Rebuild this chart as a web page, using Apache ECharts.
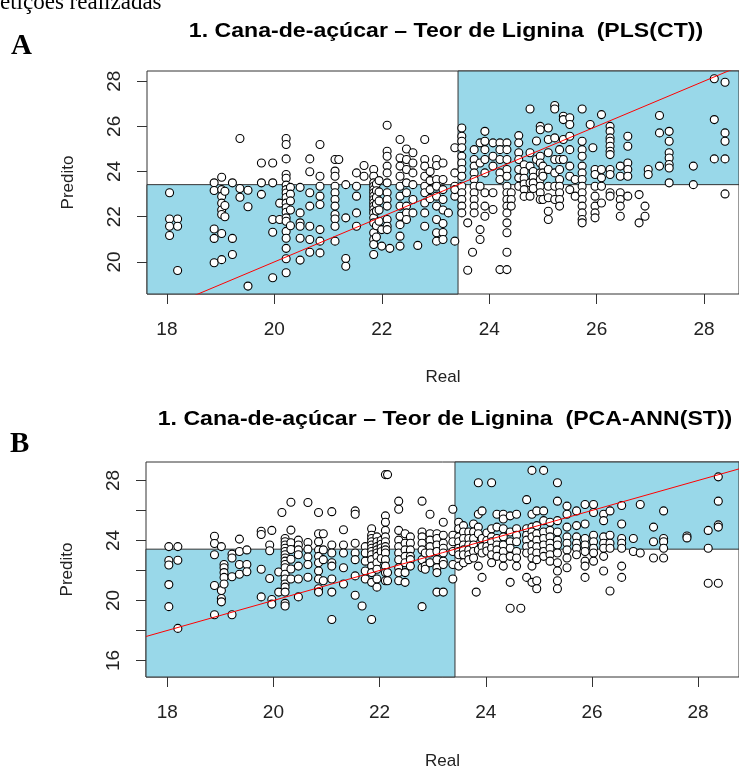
<!DOCTYPE html>
<html>
<head>
<meta charset="utf-8">
<script src="https://cdn.jsdelivr.net/npm/echarts@6/dist/echarts.min.js"></script>
<style>
  html, body { margin: 0; padding: 0; background: #fff; }
  #chart { width: 739px; height: 771px; }
</style>
</head>
<body>
<div id="chart"></div>
<script>
// limites dos eixos (o quadro é cortado à direita)
const eixoXA = [17.63, 28.65];
const eixoYA = [18.58, 28.45];
const eixoXB = [17.6, 28.77];
const eixoYB = [14.9, 29.23];
const limiar = 23.42;

const ticksX = [18, 20, 22, 24, 26, 28];
const ticksYA = [20, 22, 24, 26, 28];
const ticksYB = [16, 18, 20, 22, 24, 26, 28];
const rotulosYB = [16, 20, 24, 28];

// A: PLS(CT) -> [real, [preditos]]
const colunasA = [
  [18.05, [23.06, 21.9, 21.58, 21.17]],
  [18.2, [21.9, 21.58, 19.62]],
  [18.88, [23.5, 23.16, 21.46, 21.04, 19.96]],
  [19.02, [23.75, 23.2, 22.9, 22.6, 22.3, 22.1, 21.26, 20.1]],
  [19.08, [23.13, 22.5, 22.0]],
  [19.22, [23.5, 21.04, 20.33]],
  [19.36, [25.46, 23.25, 22.86]],
  [19.51, [23.17, 22.44, 18.93]],
  [19.76, [24.38, 23.5, 22.99]],
  [19.97, [24.38, 23.5, 21.88, 21.31, 19.3]],
  [20.1, [22.6, 21.88]],
  [20.22, [25.46, 25.2, 24.56, 23.87, 23.7, 23.4, 23.2, 23.05, 22.85, 22.6, 22.4, 22.2, 21.95, 21.8, 21.35, 21.05, 20.6, 20.14, 19.52]],
  [20.3, [23.3, 23.0, 22.7, 22.3, 21.6]],
  [20.48, [23.3, 22.17, 21.73, 21.58, 21.05, 20.08]],
  [20.66, [24.56, 23.99, 23.06, 22.47, 21.58, 20.99, 20.43]],
  [20.85, [25.2, 23.79, 23.35, 22.91, 22.54, 21.43, 20.92, 20.4]],
  [21.13, [24.53, 24.02, 23.79, 23.35, 23.06, 22.76, 22.47, 22.1, 21.9, 21.58, 20.92]],
  [21.2, [24.53]],
  [21.33, [23.42, 21.95, 20.15, 19.81]],
  [21.53, [23.94, 23.35, 22.91, 22.17, 21.58]],
  [21.67, [24.27, 23.79]],
  [21.85, [24.09, 23.79, 23.5, 23.35, 23.2, 23.06, 22.91, 22.76, 22.61, 22.47, 22.32, 22.17, 21.95, 21.73, 21.29, 20.99, 20.77, 20.33]],
  [21.9, [23.45, 23.15, 22.85, 22.55, 22.25, 21.6, 21.1]],
  [21.95, [23.6, 23.1, 22.7, 22.3, 21.8]],
  [22.0, [21.43, 20.7]],
  [22.1, [26.05, 24.9, 24.68, 24.24, 23.94, 23.5, 23.06, 22.76, 22.47, 21.88, 21.58, 21.43]],
  [22.15, [20.6]],
  [22.34, [25.42, 24.6, 24.24, 23.79, 23.35, 22.91, 22.47, 22.02, 21.65, 21.14, 20.7]],
  [22.46, [25.0, 24.53, 24.09, 23.5, 23.06, 22.47, 22.17, 21.88]],
  [22.58, [24.83, 24.38, 23.94, 23.42, 22.76, 22.17]],
  [22.67, [20.73]],
  [22.8, [25.42, 24.53, 24.24, 23.79, 23.35, 23.06, 22.61, 22.17, 21.58]],
  [22.9, [24.0, 23.6, 23.2, 22.8]],
  [23.02, [24.53, 24.27, 23.65, 23.35, 22.91, 22.47, 21.88, 21.29, 20.92]],
  [23.14, [24.38, 23.65, 23.2, 22.76, 22.3, 21.7, 21.3, 20.99]],
  [23.24, [22.17]],
  [23.36, [25.05, 23.94, 23.35, 22.91, 23.2, 20.92]],
  [23.49, [25.93, 25.56, 25.34, 25.05, 24.68, 24.38, 24.09, 23.79, 23.35, 23.06, 22.76, 22.47, 22.17]],
  [23.6, [21.73, 19.63]],
  [23.69, [20.43]],
  [23.72, [24.97, 24.53, 24.24, 23.94, 23.65, 23.35, 23.06, 22.76, 22.47, 22.17]],
  [23.83, [25.27, 24.38, 23.35, 21.43, 20.99]],
  [23.92, [25.78, 25.34, 24.97, 24.53, 23.94, 23.06, 22.47, 22.02]],
  [24.07, [25.27, 24.68, 24.24, 23.06, 22.32]],
  [24.2, [25.27, 24.97, 24.53, 23.94, 23.65, 19.66]],
  [24.33, [25.27, 24.97, 24.53, 24.09, 23.79, 23.35, 23.06, 22.76, 22.47, 22.17, 21.73, 21.29, 20.43, 19.66]],
  [24.41, [23.06, 22.76, 22.47]],
  [24.55, [25.59, 25.27, 24.83, 24.53, 24.09, 23.72, 23.35]],
  [24.65, [24.3, 24.0, 23.7, 23.45, 23.2, 22.9]],
  [24.76, [26.77, 24.83, 24.24, 23.5, 22.91]],
  [24.82, [24.0, 23.75, 23.5, 23.25]],
  [24.88, [25.35, 24.53]],
  [24.95, [26.0, 25.85, 24.68, 24.38, 23.94, 23.65, 23.35, 23.06, 22.76]],
  [25.0, [24.24, 23.94, 23.79, 22.76]],
  [25.1, [25.93, 25.42, 24.83, 24.09, 23.35, 22.84, 22.24, 21.88]],
  [25.22, [26.92, 26.77, 25.49, 24.53, 23.94, 23.35, 22.76]],
  [25.31, [24.97, 24.53, 24.09, 23.65, 23.35, 23.06, 22.76, 22.47]],
  [25.38, [26.45, 26.3, 25.42, 24.53]],
  [25.5, [26.38, 26.08, 25.56, 24.97, 24.24, 23.79, 23.2]],
  [25.6, [23.65, 22.91]],
  [25.73, [26.77, 25.34, 24.97, 24.68, 24.24, 23.94, 23.65, 23.35, 23.06, 22.76, 22.47, 22.17, 21.88, 21.73]],
  [25.88, [26.08]],
  [25.93, [25.05]],
  [25.97, [24.09, 23.87, 23.35, 22.91, 22.47, 22.17, 21.95]],
  [26.09, [26.52, 24.09, 23.72, 23.35, 22.61]],
  [26.25, [26.0, 25.78, 25.49, 25.34, 25.12, 24.9, 24.75, 24.09, 23.87, 23.06, 22.91]],
  [26.44, [24.24, 23.79, 23.06, 22.76, 22.47, 22.02]],
  [26.58, [25.56, 25.12, 24.38, 24.09, 23.79, 22.91]],
  [26.79, [22.98, 21.73]],
  [26.9, [22.47, 22.02]],
  [26.96, [24.09, 23.87]],
  [27.17, [26.48, 25.71, 24.24]],
  [27.35, [25.78, 25.34, 24.83, 24.6, 24.31, 24.16, 23.5]],
  [27.8, [24.24, 23.42]],
  [28.19, [28.11, 26.3, 24.56]],
  [28.39, [27.95, 25.71, 25.34, 24.56, 23.01]]
];

// B: PCA-ANN(ST) -> [real, [preditos]]
const colunasB = [
  [18.03, [23.59, 22.66, 22.36, 21.06, 19.59]],
  [18.2, [23.59, 22.68, 18.14]],
  [18.89, [24.28, 23.8, 23.05, 21.0, 19.05]],
  [19.02, [23.59, 20.67, 20.13, 19.91]],
  [19.07, [22.4, 22.18, 21.86, 21.54, 21.1]],
  [19.22, [23.09, 22.83, 21.58, 19.05]],
  [19.36, [24.09, 23.26, 22.4, 21.75]],
  [19.5, [23.37, 22.4, 21.92]],
  [19.77, [24.61, 24.4, 22.08, 20.24]],
  [19.93, [23.7, 23.31, 21.47]],
  [19.97, [24.67, 20.07, 19.76]],
  [20.1, [21.9, 20.56]],
  [20.16, [25.86]],
  [20.22, [24.13, 23.91, 23.7, 23.48, 23.26, 23.05, 22.83, 22.62, 22.4, 22.18, 21.75, 21.43, 21.1, 20.89, 20.56, 19.81, 19.63]],
  [20.33, [26.55, 24.69, 23.85, 23.4, 22.75, 22.1, 21.43]],
  [20.47, [24.02, 23.7, 23.37, 23.05, 22.29, 21.43, 20.24]],
  [20.65, [26.53, 23.86, 23.42, 22.9, 22.4, 21.55]],
  [20.85, [25.86, 24.45, 23.91, 23.37, 22.94, 22.51, 21.97, 21.43, 20.78, 20.56]],
  [20.94, [24.45, 23.37, 22.72, 21.32]],
  [21.1, [25.92, 23.7, 23.16, 22.51, 22.29, 21.43, 20.56, 18.73]],
  [21.32, [24.71, 23.7, 23.16, 22.18, 21.1]],
  [21.54, [25.97, 25.75, 23.81, 23.16, 22.72, 21.64, 20.35]],
  [21.67, [19.63]],
  [21.73, [23.59, 23.16, 22.62, 21.97, 21.43]],
  [21.85, [24.78, 24.35, 24.13, 23.91, 23.7, 23.48, 23.26, 23.05, 22.72, 22.29, 21.86, 21.21, 18.73]],
  [21.95, [24.24, 23.91, 23.59, 23.37, 23.16, 22.94, 22.51, 22.08, 21.43, 20.89]],
  [22.03, [24.0, 23.75, 23.5, 23.25, 22.8]],
  [22.11, [28.39, 25.64, 25.21, 24.67, 24.24, 23.91, 23.59, 23.37, 23.16, 22.72, 22.29, 21.86, 21.32]],
  [22.15, [28.39, 21.86, 21.32]],
  [22.36, [26.62, 26.08, 24.67, 24.02, 23.59, 23.16, 22.72, 22.18, 21.86, 21.32]],
  [22.48, [24.45, 23.81, 23.37, 22.94, 22.51, 21.86, 21.21]],
  [22.58, [24.24, 23.81, 23.37, 22.94, 22.72, 22.29]],
  [22.8, [26.62, 24.56, 24.24, 23.81, 23.37, 22.72, 22.18, 19.59]],
  [22.86, [23.16, 22.29, 22.08]],
  [22.95, [25.75, 24.45, 24.02, 23.59, 23.16, 22.51]],
  [23.08, [24.45, 24.13, 23.7, 23.26, 22.72, 22.18, 21.86, 20.56]],
  [23.2, [25.21, 24.35, 23.81, 23.48, 23.16, 22.62, 22.4, 20.56]],
  [23.38, [26.08, 24.35, 23.91, 23.26, 22.4, 21.43]],
  [23.49, [25.21, 24.78, 24.24, 23.91, 23.48, 23.26, 23.05, 22.29]],
  [23.58, [24.99, 24.56, 24.13, 23.7, 23.37, 23.05, 22.51]],
  [23.68, [24.56, 24.13, 23.7, 23.37, 23.05, 22.72]],
  [23.77, [25.1, 24.56, 24.13, 23.7, 23.26, 22.83]],
  [23.82, [20.56]],
  [23.86, [27.85, 25.75, 24.89, 24.45, 23.37, 22.29]],
  [23.93, [25.97, 24.13, 23.59, 23.16, 21.54]],
  [24.02, [24.5, 24.0, 23.6, 23.3]],
  [24.11, [27.85, 24.78, 24.24, 23.91, 23.48, 23.05, 22.51]],
  [24.21, [25.75, 24.89, 24.13, 23.7, 23.37, 22.94]],
  [24.33, [25.75, 25.43, 24.78, 24.24, 23.7, 23.26, 22.83, 22.29]],
  [24.46, [25.64, 24.56, 23.91, 23.48, 22.94, 21.21, 19.48]],
  [24.58, [25.75, 24.78, 24.35, 23.91, 23.26, 22.83, 22.29]],
  [24.66, [19.48]],
  [24.77, [26.72, 24.78, 24.35, 24.02, 23.59, 23.16, 21.54]],
  [24.87, [28.67, 25.75, 24.89, 24.56, 24.24, 23.7, 23.26, 22.83, 22.29, 21.21]],
  [24.96, [25.97, 24.99, 24.45, 24.02, 23.59, 23.16, 22.72, 21.32, 20.78]],
  [25.09, [28.67, 25.97, 25.32, 24.56, 24.13, 23.7, 23.26, 22.94]],
  [25.21, [25.21, 24.67, 24.24, 23.81, 23.48, 23.05, 22.62]],
  [25.35, [27.85, 26.62, 25.32, 24.56, 24.02, 23.7, 23.16, 22.51, 21.97, 21.32, 20.78]],
  [25.53, [26.29, 25.75, 24.89, 24.24, 23.81, 23.37, 22.83, 22.18]],
  [25.71, [25.97, 24.99, 24.24, 23.81, 23.48, 23.05]],
  [25.87, [26.4, 25.1, 24.13, 23.7, 23.26, 22.62, 22.29, 21.54]],
  [26.03, [26.4, 25.86, 24.35, 23.91, 23.48, 23.16, 22.62]],
  [26.22, [25.75, 25.32, 24.24, 23.81, 23.48, 22.94, 21.97]],
  [26.34, [25.97, 24.35, 23.81, 23.48, 20.63]],
  [26.56, [26.33, 25.1, 24.13, 23.81, 23.48, 22.29, 21.54]],
  [26.78, [24.13, 23.26]],
  [26.91, [26.4, 23.16]],
  [27.16, [24.89, 23.91, 22.83]],
  [27.35, [25.97, 24.13, 23.91, 23.48, 22.83]],
  [27.79, [24.3, 24.17]],
  [28.19, [24.67, 23.48, 21.15]],
  [28.38, [28.24, 26.62, 25.04, 24.89, 21.15]]
];

const AZUL = '#99d8e9';
const FONTE = '"Liberation Sans", Arial, sans-serif';

function pontos(colunas) {
  const out = [];
  colunas.forEach(([real, preds]) => preds.forEach(p => out.push([real, p])));
  return out;
}

function eixoX(idx, ext, gap) {
  return {
    type: 'value', gridIndex: idx, min: ext[0], max: ext[1],
    name: 'Real', nameLocation: 'middle', nameGap: gap,
    nameTextStyle: { fontSize: 17, color: '#222', fontFamily: FONTE },
    axisLine: { show: false },
    axisTick: { customValues: ticksX, length: 10, lineStyle: { color: '#333' } },
    axisLabel: { customValues: ticksX, fontSize: 19, color: '#222', margin: 26, fontFamily: FONTE },
    splitLine: { show: false }
  };
}

function eixoY(idx, ext, ticks, rotulos) {
  return {
    type: 'value', gridIndex: idx, min: ext[0], max: ext[1],
    name: 'Predito', nameLocation: 'middle', nameGap: 70,
    nameTextStyle: { fontSize: 17, color: '#222', fontFamily: FONTE },
    axisLine: { show: false },
    axisTick: { customValues: ticks, length: 10, lineStyle: { color: '#333' } },
    axisLabel: { customValues: rotulos, rotate: 90, fontSize: 19, color: '#222', margin: 23, fontFamily: FONTE },
    splitLine: { show: false }
  };
}

function series(idx, colunas, ex, ey) {
  return [
    {
      type: 'line', xAxisIndex: idx, yAxisIndex: idx, data: [], z: 1, silent: true,
      markArea: {
        silent: true,
        itemStyle: { color: AZUL, borderColor: '#333', borderWidth: 1 },
        data: [
          [{ coord: [ex[0], ey[0]] }, { coord: [limiar, limiar] }],
          [{ coord: [limiar, limiar] }, { coord: [ex[1], ey[1]] }]
        ]
      }
    },
    {
      type: 'scatter', xAxisIndex: idx, yAxisIndex: idx, z: 2,
      data: pontos(colunas), symbol: 'circle', symbolSize: 8,
      itemStyle: { color: '#fff', borderColor: '#000', borderWidth: 1.1, opacity: 1 }
    },
    {
      type: 'line', xAxisIndex: idx, yAxisIndex: idx, z: 3, symbol: 'none', clip: true,
      data: [[ex[0], ex[0]], [ex[1], ex[1]]],
      lineStyle: { color: '#ff0000', width: 1 }
    }
  ];
}

const chart = echarts.init(document.getElementById('chart'));
chart.setOption({
  animation: false,
  backgroundColor: '#fff',
  grid: [
    { left: 147, top: 71, width: 592, height: 223, show: true, borderColor: '#333', borderWidth: 1, backgroundColor: '#fff' },
    { left: 146, top: 462, width: 593, height: 221, show: true, borderColor: '#333', borderWidth: 1, backgroundColor: '#fff' }
  ],
  xAxis: [eixoX(0, eixoXA, 75), eixoX(1, eixoXB, 76)],
  yAxis: [eixoY(0, eixoYA, ticksYA, ticksYA), eixoY(1, eixoYB, ticksYB, rotulosYB)],
  series: [].concat(series(0, colunasA, eixoXA, eixoYA), series(1, colunasB, eixoXB, eixoYB)),
  graphic: [
    { type: 'text', left: 0, top: -9, style: { text: 'etições realizadas', font: '23px "Liberation Serif", serif', fill: '#000' } },
    { type: 'text', x: 446, y: 31, scaleX: 1.1, style: { text: '1. Cana-de-açúcar – Teor de Lignina  (PLS(CT))', font: 'bold 21px ' + FONTE, fill: '#000', align: 'center', verticalAlign: 'middle' } },
    { type: 'text', x: 445, y: 419, scaleX: 1.1, style: { text: '1. Cana-de-açúcar – Teor de Lignina  (PCA-ANN(ST))', font: 'bold 21px ' + FONTE, fill: '#000', align: 'center', verticalAlign: 'middle' } },
    { type: 'text', x: 11, y: 47, style: { text: 'A', font: 'bold 29px "Liberation Serif", serif', fill: '#000', verticalAlign: 'middle' } },
    { type: 'text', x: 10, y: 445, style: { text: 'B', font: 'bold 29px "Liberation Serif", serif', fill: '#000', verticalAlign: 'middle' } }
  ]
});
</script>
</body>
</html>
